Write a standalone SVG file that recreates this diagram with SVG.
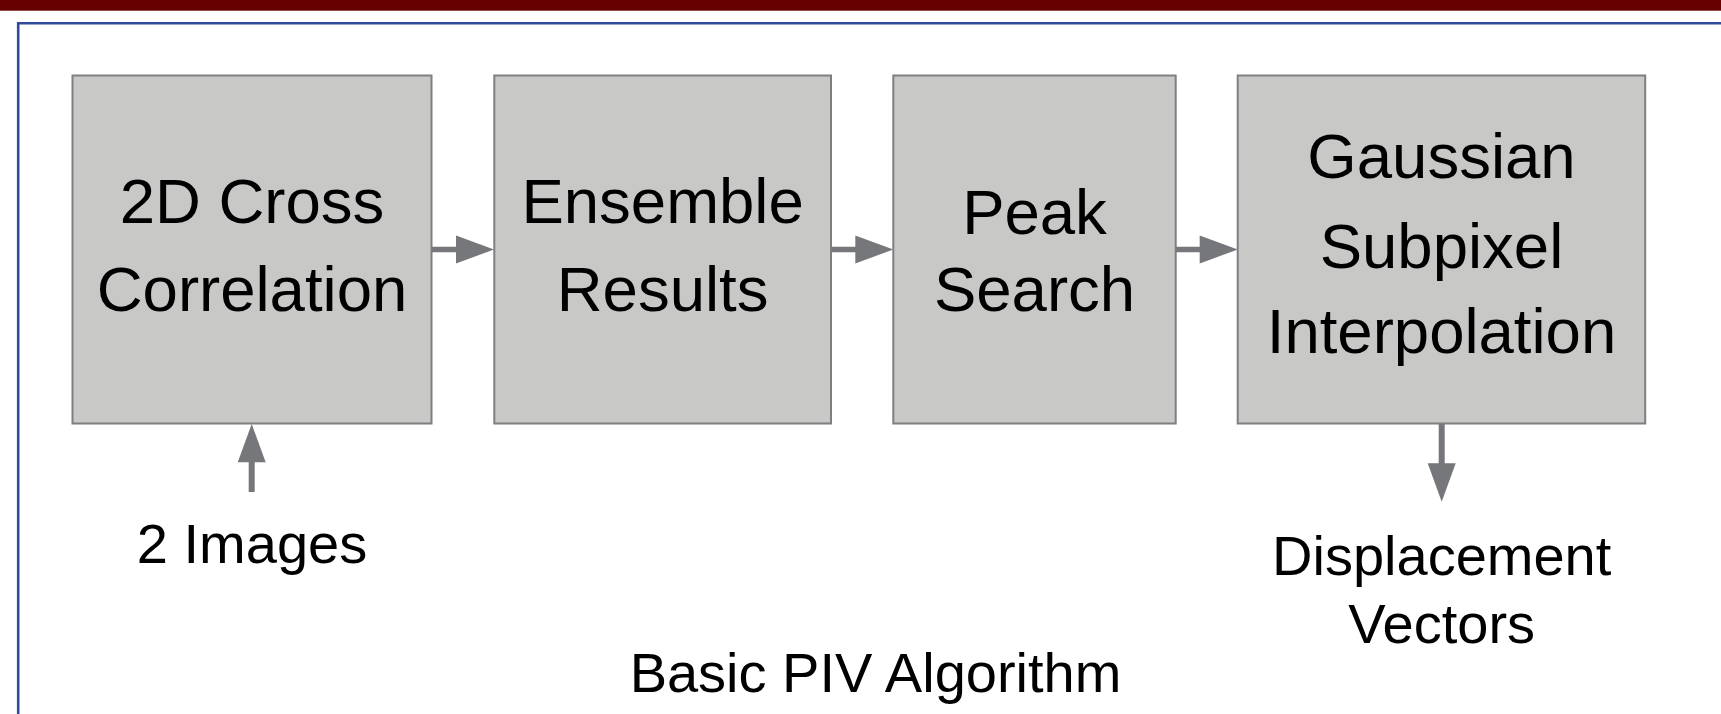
<svg xmlns="http://www.w3.org/2000/svg" width="1721" height="714" viewBox="0 0 1721 714">
<style>
.box{fill:#c8c8c7;stroke:#7e7f80;stroke-width:2}
.t{font-family:"Liberation Sans",Arial,sans-serif;fill:#000;text-anchor:middle}
.big{font-size:63.5px}
.lab{font-size:56px}
.ln{stroke:#75777a;stroke-width:5.5;fill:none}
.hd{fill:#75777a}
</style>
<rect x="0" y="0" width="1721" height="714" fill="#ffffff"/>
<rect x="0" y="0" width="1721" height="10.7" fill="#660000"/>
<path d="M18.2,714 V23.2 H1721" fill="none" stroke="#2f4c9c" stroke-width="2.6"/>
<g id="n1">
<rect class="box" x="72.5" y="75.5" width="359" height="348"/>
<text class="t big" x="252" y="222.7">2D Cross</text>
<text class="t big" x="252" y="310.7">Correlation</text>
</g>
<g id="n2">
<rect class="box" x="494.3" y="75.5" width="336.7" height="348"/>
<text class="t big" x="662.6" y="222.7">Ensemble</text>
<text class="t big" x="662.6" y="310.7">Results</text>
</g>
<g id="n3">
<rect class="box" x="893.3" y="75.5" width="282.4" height="348"/>
<text class="t big" x="1034.5" y="234">Peak</text>
<text class="t big" x="1034.5" y="311">Search</text>
</g>
<g id="n4">
<rect class="box" x="1237.7" y="75.5" width="407.5" height="348"/>
<text class="t big" x="1441.5" y="178.3">Gaussian</text>
<text class="t big" x="1441.5" y="268.3">Subpixel</text>
<text class="t big" x="1441.5" y="353.3">Interpolation</text>
</g>
<g id="in">
<text class="t lab" x="252" y="563.3">2 Images</text>
</g>
<g id="out">
<text class="t lab" x="1441.7" y="575">Displacement</text>
<text class="t lab" x="1441.7" y="643.3">Vectors</text>
</g>
<g id="title">
<text class="t lab" x="875.5" y="691.7">Basic PIV Algorithm</text>
</g>
<g id="connectors">
<line class="ln" x1="432" y1="249.5" x2="458" y2="249.5"/>
<polygon class="hd" points="456,235.5 494,249.5 456,263.5"/>
<line class="ln" x1="831.5" y1="249.5" x2="857" y2="249.5"/>
<polygon class="hd" points="855.3,235.5 893.3,249.5 855.3,263.5"/>
<line class="ln" x1="1176" y1="249.5" x2="1201" y2="249.5"/>
<polygon class="hd" points="1199.7,235.5 1237.7,249.5 1199.7,263.5"/>
<line class="ln" style="stroke-width:6" x1="251.7" y1="492" x2="251.7" y2="460"/>
<polygon class="hd" points="237.7,462.3 251.7,424 265.7,462.3"/>
<line class="ln" style="stroke-width:6" x1="1441.7" y1="424" x2="1441.7" y2="465"/>
<polygon class="hd" points="1427.7,463.3 1441.7,501.7 1455.7,463.3"/>
</g>
</svg>
